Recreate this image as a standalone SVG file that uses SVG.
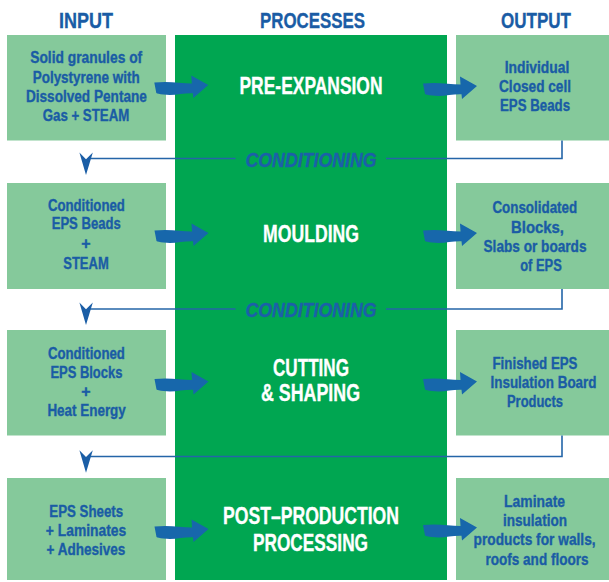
<svg xmlns="http://www.w3.org/2000/svg" width="609" height="582" viewBox="0 0 609 582">
<defs>
<style>
.box{fill:#85c99b}
.proc{fill:#00a651}
.t{font-family:"Liberation Sans Narrow","Liberation Sans",Arial,sans-serif;font-weight:bold;fill:#1a5ca5;stroke:#1a5ca5;stroke-width:0.35;font-size:16px;text-anchor:middle}
.h{font-size:22.5px}
.p{fill:#ffffff;stroke:#ffffff;font-size:23.5px}
.c{font-style:italic;font-size:21px;fill:#1c5fa9;stroke:#1c5fa9}
.ln{fill:none;stroke:#2465a8;stroke-width:1.6}
.ah{fill:#1b5ea6}
.ar{fill:#1767ab}
</style>
<path id="fat" class="ar" d="M-54,-2.5 C-40,-4 -28,-2 -16.5,-1.5 L-17,-9.5 L0,0 L-15,13 L-15.5,8.3 C-26,8 -34,11 -45,9.5 C-49,9 -51,8.5 -52,8 Z"/>
<path id="head" class="ah" d="M-6.6,-22.4 L0,-15.8 L6.8,-22.4 L0,0 Z"/>
</defs>
<rect width="609" height="582" fill="#ffffff"/>

<g id="headers">
<text class="t h" x="86" y="28" textLength="54" lengthAdjust="spacingAndGlyphs">INPUT</text>
<text class="t h" x="312.5" y="28" textLength="105" lengthAdjust="spacingAndGlyphs">PROCESSES</text>
<text class="t h" x="536" y="28" textLength="70" lengthAdjust="spacingAndGlyphs">OUTPUT</text>
</g>

<g id="processes">
<rect class="proc" x="175" y="35" width="272" height="545"/>
</g>

<g id="in1">
<rect class="box" x="7" y="35" width="159" height="105.5"/>
<text class="t" x="86.2" y="63.3" textLength="112" lengthAdjust="spacingAndGlyphs">Solid granules of</text>
<text class="t" x="86.2" y="82.7" textLength="107" lengthAdjust="spacingAndGlyphs">Polystyrene with</text>
<text class="t" x="86.4" y="101.7" textLength="121" lengthAdjust="spacingAndGlyphs">Dissolved Pentane</text>
<text class="t" x="86" y="120.7" textLength="86.6" lengthAdjust="spacingAndGlyphs">Gas + STEAM</text>
</g>
<g id="out1">
<rect class="box" x="456" y="35" width="153" height="105.5"/>
<text class="t" x="537" y="72.7" textLength="64.5" lengthAdjust="spacingAndGlyphs">Individual</text>
<text class="t" x="535" y="91.7" textLength="72" lengthAdjust="spacingAndGlyphs">Closed cell</text>
<text class="t" x="535" y="110.7" textLength="70" lengthAdjust="spacingAndGlyphs">EPS Beads</text>
</g>
<g id="p1"><text class="t p" x="311" y="94" textLength="143" lengthAdjust="spacingAndGlyphs">PRE-EXPANSION</text></g>

<g id="in2">
<rect class="box" x="7" y="183" width="159" height="106"/>
<text class="t" x="86.4" y="210.7" textLength="77" lengthAdjust="spacingAndGlyphs">Conditioned</text>
<text class="t" x="86.2" y="229.3" textLength="69" lengthAdjust="spacingAndGlyphs">EPS Beads</text>
<text class="t" x="86" y="249">+</text>
<text class="t" x="86" y="269" textLength="45.4" lengthAdjust="spacingAndGlyphs">STEAM</text>
</g>
<g id="out2">
<rect class="box" x="456" y="183" width="153" height="106"/>
<text class="t" x="534.8" y="213.3" textLength="84.7" lengthAdjust="spacingAndGlyphs">Consolidated</text>
<text class="t" x="537.5" y="233.3" textLength="53" lengthAdjust="spacingAndGlyphs">Blocks,</text>
<text class="t" x="535" y="252.3" textLength="103" lengthAdjust="spacingAndGlyphs">Slabs or boards</text>
<text class="t" x="541" y="271" textLength="41.5" lengthAdjust="spacingAndGlyphs">of EPS</text>
</g>
<g id="p2"><text class="t p" x="311" y="242" textLength="96" lengthAdjust="spacingAndGlyphs">MOULDING</text></g>

<g id="in3">
<rect class="box" x="7" y="330" width="159" height="105.5"/>
<text class="t" x="86.4" y="359" textLength="77" lengthAdjust="spacingAndGlyphs">Conditioned</text>
<text class="t" x="86.4" y="378.3" textLength="72" lengthAdjust="spacingAndGlyphs">EPS Blocks</text>
<text class="t" x="86" y="397">+</text>
<text class="t" x="86.6" y="416" textLength="78.4" lengthAdjust="spacingAndGlyphs">Heat Energy</text>
</g>
<g id="out3">
<rect class="box" x="456" y="330" width="153" height="105.5"/>
<text class="t" x="535" y="369" textLength="85" lengthAdjust="spacingAndGlyphs">Finished EPS</text>
<text class="t" x="543.5" y="388.3" textLength="106" lengthAdjust="spacingAndGlyphs">Insulation Board</text>
<text class="t" x="535" y="407.3" textLength="56" lengthAdjust="spacingAndGlyphs">Products</text>
</g>
<g id="p3">
<text class="t p" x="311" y="376" textLength="76" lengthAdjust="spacingAndGlyphs">CUTTING</text>
<text class="t p" x="310.5" y="401" textLength="99" lengthAdjust="spacingAndGlyphs">&amp; SHAPING</text>
</g>

<g id="in4">
<rect class="box" x="7" y="478" width="159" height="102"/>
<text class="t" x="86.2" y="517.3" textLength="73.8" lengthAdjust="spacingAndGlyphs">EPS Sheets</text>
<text class="t" x="86" y="536" textLength="80.4" lengthAdjust="spacingAndGlyphs">+ Laminates</text>
<text class="t" x="86" y="555" textLength="78.8" lengthAdjust="spacingAndGlyphs">+ Adhesives</text>
</g>
<g id="out4">
<rect class="box" x="456" y="478" width="153" height="102"/>
<text class="t" x="534.6" y="507.3" textLength="61" lengthAdjust="spacingAndGlyphs">Laminate</text>
<text class="t" x="535" y="526" textLength="64" lengthAdjust="spacingAndGlyphs">insulation</text>
<text class="t" x="534.6" y="545.3" textLength="122" lengthAdjust="spacingAndGlyphs">products for walls,</text>
<text class="t" x="537" y="565" textLength="103" lengthAdjust="spacingAndGlyphs">roofs and floors</text>
</g>
<g id="p4">
<text class="t p" x="311" y="524" textLength="176" lengthAdjust="spacingAndGlyphs">POST–PRODUCTION</text>
<text class="t p" x="310.5" y="551" textLength="115" lengthAdjust="spacingAndGlyphs">PROCESSING</text>
</g>

<g id="connectors">
<path class="ln" d="M562,140.5 V158.5 H386 M235.5,158.5 H88"/>
<use href="#head" x="86" y="175"/>
<text class="t c" x="311" y="166.7" textLength="131" lengthAdjust="spacingAndGlyphs">CONDITIONING</text>
<path class="ln" d="M562,289 V309 H386 M235.5,309 H88"/>
<use href="#head" x="86" y="325"/>
<text class="t c" x="311" y="316.7" textLength="131" lengthAdjust="spacingAndGlyphs">CONDITIONING</text>
<path class="ln" d="M562,435.5 V456.5 H88"/>
<use href="#head" x="86" y="472.7"/>
<use href="#fat" x="208.3" y="85"/>
<use href="#fat" x="477" y="86"/>
<use href="#fat" x="208.5" y="233"/>
<use href="#fat" x="477" y="233"/>
<use href="#fat" x="208.5" y="381.5"/>
<use href="#fat" x="477" y="381.5"/>
<use href="#fat" x="208.5" y="529"/>
<use href="#fat" x="477" y="527.5"/>
</g>
</svg>
